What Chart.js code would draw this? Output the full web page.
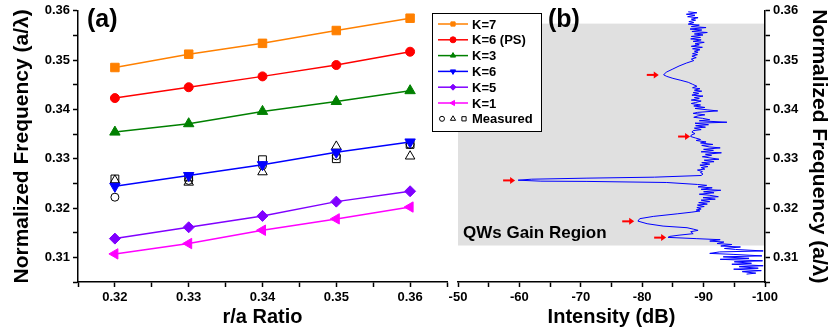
<!DOCTYPE html>
<html>
<head>
<meta charset="utf-8">
<script src="https://cdn.jsdelivr.net/npm/chart.js@4.4.1/dist/chart.umd.min.js"></script>
<style>
  body { margin: 0; background: #fff; }
  #wrap { position: relative; width: 831px; height: 335px; }
  #wrap canvas { position: absolute; left: 0; top: 0; }
</style>
</head>
<body>
<div id="wrap">
  <canvas id="chartA" width="831" height="335"></canvas>
  <canvas id="chartB" width="831" height="335"></canvas>
</div>
<script>
// ---- panel (a): normalized frequency vs r/a ----
const ratios = [0.32, 0.33, 0.34, 0.35, 0.36];
const k7   = [0.3485, 0.3512, 0.3534, 0.3560, 0.3585];
const k6ps = [0.3423, 0.3445, 0.3467, 0.3490, 0.3517];
const k3   = [0.3354, 0.3371, 0.3396, 0.3416, 0.3438];
const k6   = [0.3244, 0.3266, 0.3288, 0.3313, 0.3334];
const k5   = [0.3138, 0.3161, 0.3184, 0.3213, 0.3234];
const k1   = [0.3107, 0.3128, 0.3155, 0.3178, 0.3202];
const measCircle   = [0.3222, 0.3256, 0.3286, 0.3306, 0.3329];
const measTriangle = [0.3256, 0.3252, 0.3273, 0.3325, 0.3305];
const measSquare   = [0.3259, 0.3263, 0.3298, 0.3300, 0.3329];

const seriesNames = ['K=7', 'K=6 (PS)', 'K=3', 'K=6', 'K=5', 'K=1'];
const seriesData  = [k7, k6ps, k3, k6, k5, k1];

// tick values (major ones get labels)
const freqTicks  = [0.305, 0.31, 0.315, 0.32, 0.325, 0.33, 0.335, 0.34, 0.345, 0.35, 0.355, 0.36];
const freqLabels = [0.31, 0.32, 0.33, 0.34, 0.35, 0.36];
const ratioTicks  = [0.315, 0.32, 0.325, 0.33, 0.335, 0.34, 0.345, 0.35, 0.355, 0.36, 0.365];
const ratioLabels = [0.32, 0.33, 0.34, 0.35, 0.36];
const dbTicks  = [-50, -55, -60, -65, -70, -75, -80, -85, -90, -95, -100];
const dbLabels = [-50, -60, -70, -80, -90, -100];

// ---- panel (b): measured spectrum (frequency, dB) ----
const specFreq = [
  0.3598, 0.3596, 0.3593, 0.3591, 0.3588, 0.3586, 0.3583, 0.3581, 0.3578, 0.3576,
  0.3573, 0.3571, 0.3568, 0.3566, 0.3563, 0.3561, 0.3558, 0.3556, 0.3553, 0.3551,
  0.3548, 0.3546, 0.3543, 0.3541, 0.3538, 0.3536, 0.3533, 0.3531, 0.3528, 0.3526,
  0.3523, 0.3521, 0.3518, 0.3516, 0.3513, 0.3511, 0.3508, 0.3505, 0.3502, 0.3499,
  0.3494, 0.3488, 0.3482, 0.3476, 0.3472, 0.3470, 0.3467, 0.3463, 0.3459, 0.3455,
  0.3451, 0.3447, 0.3444, 0.3442, 0.3439, 0.3437, 0.3434, 0.3432, 0.3429, 0.3427,
  0.3424, 0.3422, 0.3419, 0.3417, 0.3414, 0.3412, 0.3409, 0.3407, 0.3404, 0.3402,
  0.3399, 0.3397, 0.3394, 0.3392, 0.3389, 0.3387, 0.3384, 0.3382, 0.3379, 0.3377,
  0.3374, 0.3372, 0.3369, 0.3367, 0.3364, 0.3362, 0.3359, 0.3357, 0.3354, 0.3351,
  0.3348, 0.3345, 0.3342, 0.3339, 0.3337, 0.3334, 0.3332, 0.3329, 0.3327, 0.3324,
  0.3322, 0.3319, 0.3317, 0.3314, 0.3312, 0.3309, 0.3307, 0.3304, 0.3302, 0.3299,
  0.3297, 0.3294, 0.3292, 0.3289, 0.3287, 0.3284, 0.3282, 0.3279, 0.3277, 0.3274,
  0.3272, 0.3269, 0.3266, 0.32626, 0.32606, 0.32585, 0.32565, 0.32545, 0.32540, 0.32518,
  0.32478, 0.3246, 0.3243, 0.3241, 0.3238, 0.3236, 0.3233, 0.3231, 0.3228, 0.3226,
  0.3223, 0.3221, 0.3218, 0.3216, 0.3213, 0.3211, 0.3208, 0.3206, 0.3203, 0.3201,
  0.3198, 0.3196, 0.3194, 0.31917, 0.31884, 0.31830, 0.31784, 0.31735, 0.31682, 0.31634,
  0.31601, 0.31570, 0.31547, 0.31520, 0.31480, 0.31450, 0.31425, 0.31405, 0.31379, 0.31358,
  0.3133, 0.3131, 0.3128, 0.3126, 0.3123, 0.3121, 0.3118, 0.3116, 0.3113, 0.3111,
  0.3108, 0.3106, 0.3103, 0.3101, 0.3098, 0.3096, 0.3093, 0.3091, 0.3088, 0.3086,
  0.3083, 0.3081, 0.3078, 0.3076, 0.3073, 0.3071, 0.3068, 0.3066
];
const specDb = [
  -87.5, -88.9, -87.2, -88.6, -87.4, -89.1, -88.0, -88.7, -87.6, -88.4,
  -87.5, -89.3, -88.0, -90.4, -87.8, -89.7, -88.1, -90.6, -88.5, -89.9,
  -88.0, -89.5, -87.9, -89.6, -88.3, -90.1, -88.6, -89.3, -88.0, -89.8,
  -88.2, -89.4, -88.5, -89.1, -88.2, -89.0, -88.1, -88.8, -88.0, -88.4,
  -87.2, -86.0, -85.0, -84.0, -83.6, -83.5, -84.0, -85.0, -86.3, -87.5,
  -88.2, -88.9, -88.2, -89.4, -88.5, -89.7, -88.3, -89.2, -88.1, -89.9,
  -88.5, -89.3, -88.0, -89.6, -88.7, -88.0, -89.5, -88.4, -90.2, -88.6,
  -90.7, -92.3, -89.0, -88.3, -90.2, -89.1, -88.4, -89.8, -91.0, -89.3,
  -93.8, -88.6, -90.8, -88.7, -90.3, -88.5, -89.6, -88.3, -88.1, -88.6,
  -88.0, -87.9, -88.7, -89.5, -88.8, -90.4, -89.5, -91.5, -89.7, -90.9,
  -92.7, -90.0, -91.6, -89.6, -92.9, -90.3, -91.3, -89.8, -90.9, -92.5,
  -90.1, -91.7, -89.7, -91.0, -89.4, -90.7, -89.6, -90.2, -89.0, -89.8,
  -89.5, -89.9, -89.6, -82.0, -71.0, -62.0, -59.8, -63.5, -71.0, -84.0,
  -89.0, -90.5, -89.1, -91.4, -89.6, -92.8, -90.0, -91.7, -89.3, -90.9,
  -92.4, -89.9, -91.9, -89.6, -91.0, -89.2, -90.6, -89.0, -90.1, -88.9,
  -89.6, -88.8, -89.4, -88.1, -85.8, -81.8, -79.6, -79.3, -80.8, -83.4,
  -87.3, -88.4, -89.1, -87.9, -88.3, -86.0, -84.5, -84.2, -88.9, -92.7,
  -91.0, -93.3, -92.2, -94.6, -92.8, -96.0, -93.4, -95.2, -99.7, -92.6,
  -91.0, -94.8, -99.5, -93.2, -97.4, -92.7, -99.6, -95.0, -97.8, -94.6,
  -99.7, -95.8, -98.9, -94.9, -99.4, -96.3, -98.5, -97.0
];

// arrow tips (dB, frequency) and the shaded gain band
const arrowDb   = [-82.7, -87.8, -59.3, -78.7, -83.9];
const arrowFreq = [0.3470, 0.3345, 0.3256, 0.3173, 0.3140];
const gainBand  = [0.3124, 0.3574];

const FONT = '"Liberation Sans", Arial, sans-serif';
const colors = ['#FF8000', '#FF0000', '#008000', '#0000FF', '#8000FF', '#FF00FF'];
const markers = [
  { style: 'rect', rot: 0, r: 6 },
  { style: 'circle', rot: 0, r: 4.5 },
  { style: 'triangle', rot: 0, r: 6 },
  { style: 'triangle', rot: 180, r: 6 },
  { style: 'rectRot', rot: 0, r: 5.5 },
  { style: 'triangle', rot: -90, r: 6 }
];

function near(list, v) {
  return list.some(t => Math.abs(t - v) < 1e-6);
}

function axisBase(ticks, labels, fmt) {
  return {
    type: 'linear',
    afterBuildTicks: s => { s.ticks = ticks.map(v => ({ value: v })); },
    ticks: {
      autoSkip: false,
      maxRotation: 0,
      color: '#000',
      padding: 3,
      font: { family: FONT, size: 13, weight: 'bold' },
      callback: v => near(labels, v) ? fmt(v) : ''
    },
    border: { display: true, color: '#000', width: 1.5 },
    grid: { display: true, drawOnChartArea: false, drawTicks: true, tickLength: 5, tickColor: '#000', tickWidth: 1.5 }
  };
}

function pt(ctx, style, x, y) {
  ctx.save();
  ctx.fillStyle = style.fill;
  ctx.strokeStyle = style.stroke;
  ctx.lineWidth = style.bw || 1;
  Chart.helpers.drawPoint(ctx, { pointStyle: style.style, radius: style.r, rotation: style.rot, borderWidth: style.bw || 1 }, x, y);
  ctx.restore();
}

// ---- chart (a) ----
const datasetsA = seriesData.map((d, i) => ({
  label: seriesNames[i],
  data: ratios.map((x, j) => ({ x: x, y: d[j] })),
  showLine: true,
  borderColor: colors[i],
  backgroundColor: colors[i],
  borderWidth: 1.5,
  pointStyle: markers[i].style,
  rotation: markers[i].rot,
  pointRadius: markers[i].r,
  pointBorderWidth: 1
}));
[[measCircle, 'circle', 4], [measTriangle, 'triangle', 5.5], [measSquare, 'rect', 5.5]].forEach(m => {
  datasetsA.push({
    label: 'Measured',
    data: ratios.map((x, j) => ({ x: x, y: m[0][j] })),
    showLine: false,
    borderColor: '#000',
    backgroundColor: 'rgba(0,0,0,0)',
    pointStyle: m[1],
    pointRadius: m[2],
    pointBorderWidth: 1
  });
});

const xA = axisBase(ratioTicks, ratioLabels, v => v.toFixed(2));
Object.assign(xA, {
  position: 'bottom', min: 0.315, max: 0.365,
  afterFit: s => { s.height = 53; },
  title: { display: true, text: 'r/a Ratio', color: '#000', padding: { top: 0, bottom: 6 },
           font: { family: FONT, size: 20, weight: 'bold' } }
});
const yA = axisBase(freqTicks, freqLabels, v => v.toFixed(2));
Object.assign(yA, {
  position: 'left', min: 0.305, max: 0.36,
  afterFit: s => { s.width = 78; },
  title: { display: true, text: 'Normalized Frequency (a/\u03BB)', color: '#000', padding: { top: 10, bottom: 0 },
           font: { family: FONT, size: 21, weight: 'bold' } }
});

new Chart(document.getElementById('chartA'), {
  type: 'scatter',
  data: { datasets: datasetsA },
  options: {
    responsive: false,
    animation: false,
    layout: { padding: { left: 0, top: 10, right: 384, bottom: 0 } },
    plugins: { legend: { display: false }, tooltip: { enabled: false } },
    scales: { x: xA, y: yA }
  },
  plugins: [{
    id: 'panelA',
    afterDraw(chart) {
      const c = chart.ctx, a = chart.chartArea;
      c.save();
      c.fillStyle = '#000';
      c.font = 'bold 25px ' + FONT;
      c.textBaseline = 'middle';
      c.fillText('(a)', a.left + 9, a.top + 9);
      c.restore();
    }
  }]
});

// ---- chart (b) ----
const xB = axisBase(dbTicks, dbLabels, v => String(v));
Object.assign(xB, {
  position: 'bottom', min: -100, max: -50, reverse: true,
  afterFit: s => { s.height = 53; },
  title: { display: true, text: 'Intensity (dB)', color: '#000', padding: { top: 0, bottom: 6 },
           font: { family: FONT, size: 20, weight: 'bold' } }
});
const yB = axisBase(freqTicks, freqLabels, v => v.toFixed(2));
Object.assign(yB, {
  position: 'right', min: 0.305, max: 0.36,
  afterFit: s => { s.width = 66; },
  title: { display: true, text: 'Normalized Frequency (a/\u03BB)', color: '#000', padding: { top: 0, bottom: 0 },
           font: { family: FONT, size: 21, weight: 'bold' } }
});

new Chart(document.getElementById('chartB'), {
  type: 'scatter',
  data: {
    datasets: [{
      label: 'Spectrum',
      data: specFreq.map((f, i) => ({ x: specDb[i], y: f })),
      showLine: true,
      borderColor: '#0000FF',
      borderWidth: 1,
      pointRadius: 0
    }]
  },
  options: {
    responsive: false,
    animation: false,
    layout: { padding: { left: 458, top: 10, right: 0, bottom: 0 } },
    plugins: { legend: { display: false }, tooltip: { enabled: false } },
    scales: { x: xB, y: yB }
  },
  plugins: [{
    id: 'gainBand',
    beforeDraw(chart) {
      const c = chart.ctx, sx = chart.scales.x, sy = chart.scales.y;
      const x0 = sx.getPixelForValue(-50), x1 = sx.getPixelForValue(-100);
      const y0 = sy.getPixelForValue(gainBand[1]), y1 = sy.getPixelForValue(gainBand[0]);
      c.save();
      c.fillStyle = '#E0E0E0';
      c.fillRect(x0, y0, x1 - x0, y1 - y0);
      c.fillStyle = '#000';
      c.font = 'bold 17px ' + FONT;
      c.textBaseline = 'middle';
      c.fillText('QWs Gain Region', x0 + 5, y1 - 12);
      c.restore();
    },
    afterDraw(chart) {
      const c = chart.ctx, sx = chart.scales.x, sy = chart.scales.y, a = chart.chartArea;
      c.save();
      // arrows
      c.strokeStyle = '#FF0000';
      c.fillStyle = '#FF0000';
      c.lineWidth = 2;
      arrowDb.forEach((d, i) => {
        const tx = sx.getPixelForValue(d), ty = sy.getPixelForValue(arrowFreq[i]);
        c.beginPath();
        c.moveTo(tx - 12, ty);
        c.lineTo(tx - 4, ty);
        c.stroke();
        c.beginPath();
        c.moveTo(tx, ty);
        c.lineTo(tx - 5, ty - 3.5);
        c.lineTo(tx - 5, ty + 3.5);
        c.closePath();
        c.fill();
      });
      // panel label
      c.fillStyle = '#000';
      c.font = 'bold 25px ' + FONT;
      c.textBaseline = 'middle';
      c.fillText('(b)', a.left + 90, a.top + 9);
      // legend
      const lx = 432, ly = 13, lw = 109, lh = 118, step = 15.8;
      c.fillStyle = '#fff';
      c.fillRect(lx, ly, lw, lh);
      c.strokeStyle = '#000';
      c.lineWidth = 1;
      c.strokeRect(lx + 0.5, ly + 0.5, lw, lh);
      c.font = 'bold 13px ' + FONT;
      seriesNames.forEach((name, i) => {
        const y = ly + 11 + i * step;
        c.strokeStyle = colors[i];
        c.lineWidth = 1.5;
        c.beginPath();
        c.moveTo(lx + 6, y);
        c.lineTo(lx + 36, y);
        c.stroke();
        pt(c, { style: markers[i].style, rot: markers[i].rot, r: 3, fill: colors[i], stroke: colors[i] }, lx + 21, y);
        c.fillStyle = '#000';
        c.fillText(name, lx + 40, y + 1);
      });
      const ym = ly + 11 + 6 * step;
      pt(c, { style: 'circle', rot: 0, r: 2.5, fill: 'rgba(0,0,0,0)', stroke: '#000' }, lx + 10, ym);
      pt(c, { style: 'triangle', rot: 0, r: 3, fill: 'rgba(0,0,0,0)', stroke: '#000' }, lx + 21, ym);
      pt(c, { style: 'rect', rot: 0, r: 3, fill: 'rgba(0,0,0,0)', stroke: '#000' }, lx + 32, ym);
      c.fillStyle = '#000';
      c.fillText('Measured', lx + 40, ym + 1);
      c.restore();
    }
  }]
});
</script>
</body>
</html>
